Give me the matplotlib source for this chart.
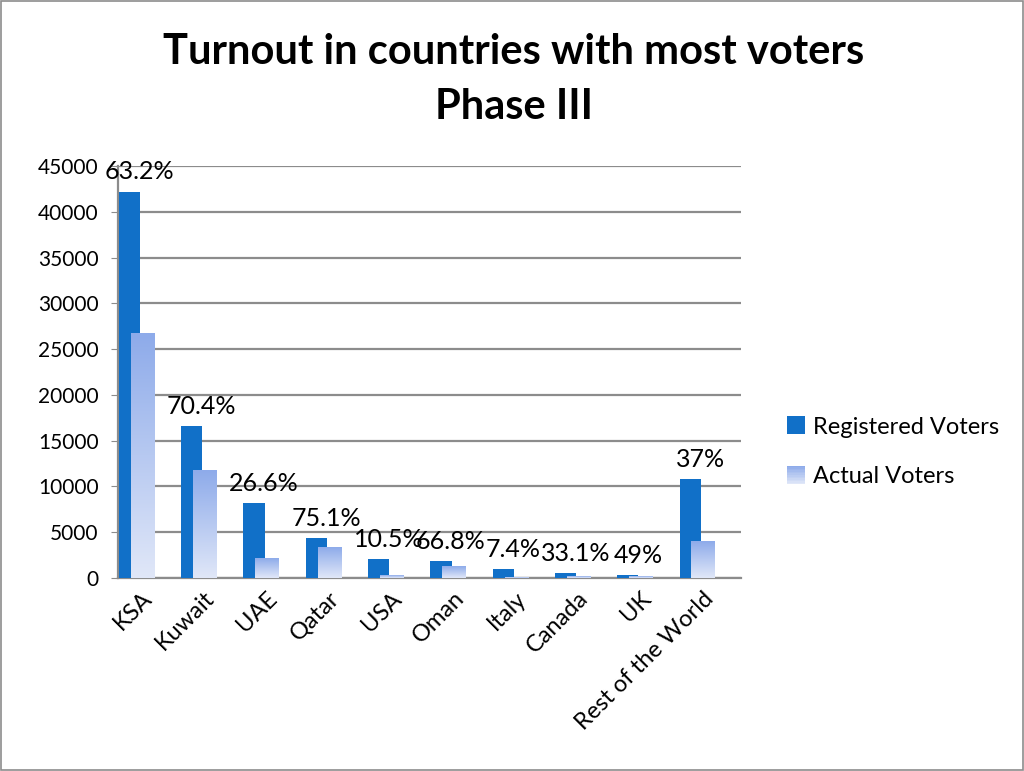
import numpy as np
import matplotlib
matplotlib.use("Agg")
import matplotlib.pyplot as plt
from matplotlib.patches import Rectangle
from matplotlib.legend_handler import HandlerBase

# data
countries = ["KSA", "Kuwait", "UAE", "Qatar", "USA", "Oman", "Italy", "Canada", "UK", "Rest of the World"]
registered = [42200, 16600, 8190, 4370, 2100, 1850, 980, 550, 330, 10800]
actual = [26700, 11690, 2180, 3280, 220, 1240, 73, 182, 160, 4000]
turnout = ["63.2%", "70.4%", "26.6%", "75.1%", "10.5%", "66.8%", "7.4%", "33.1%", "49%", "37%"]
yticks = [0, 5000, 10000, 15000, 20000, 25000, 30000, 35000, 40000, 45000]

plt.rcParams['font.family'] = ['Lato', 'DejaVu Sans']

blue = "#1170c8"
grad_top = np.array([0x8e, 0xab, 0xea]) / 255
grad_bot = np.array([0xe0, 0xe7, 0xf8]) / 255


def gradient_img():
    t = np.linspace(0, 1, 64)[:, None]
    return (grad_top * (1 - t) + grad_bot * t)[:, None, :]


class GradHandler(HandlerBase):
    def create_artists(self, legend, orig_handle, xdescent, ydescent,
                       width, height, fontsize, trans):
        arts = []
        n = 12
        s = min(width, height) * 1.0
        x0 = xdescent + (width - s) / 2
        y0 = -ydescent + (height - s) / 2
        for k in range(n):
            t = k / (n - 1)
            c = grad_bot * (1 - t) + grad_top * t
            r = Rectangle((x0, y0 + s * k / n), s, s / n + 0.3, facecolor=c,
                          edgecolor='none', transform=trans)
            arts.append(r)
        return arts


class SquareHandler(HandlerBase):
    def create_artists(self, legend, orig_handle, xdescent, ydescent,
                       width, height, fontsize, trans):
        s = min(width, height) * 1.0
        r = Rectangle((xdescent + (width - s) / 2, -ydescent + (height - s) / 2), s, s,
                      facecolor=blue, edgecolor='none', transform=trans)
        return [r]


fig = plt.figure(figsize=(10.24, 7.71), dpi=100)
ax = fig.add_axes([0.1152, 0.2503, 0.6084, 0.5344])

x = np.arange(len(countries))
w = 0.34
reg_left = x - 0.485
act_left = x - 0.295

ax.bar(reg_left, registered, width=w, align='edge', color=blue, zorder=3)
img = gradient_img()
for xl, v in zip(act_left, actual):
    ax.imshow(img, extent=[xl, xl + w + 0.03, 0, v], aspect='auto', zorder=4,
              interpolation='bilinear')

for xl, v, lab in zip(reg_left, registered, turnout):
    ax.text(xl + 0.33, v + 900, lab, ha='center', va='bottom', fontsize=18, zorder=5)

ax.set_xlim(-0.5, len(countries) - 0.5)
ax.set_ylim(0, 45000)
ax.set_yticks(yticks)
ax.set_yticklabels([str(t) for t in yticks], fontsize=15)
ax.yaxis.grid(True, color='#8c8c8c', linewidth=1.6, zorder=0)
ax.set_axisbelow(True)
ax.set_xticks(x - 0.12)
ax.set_xticklabels(countries, rotation=45, ha='right', rotation_mode='anchor', fontsize=17)
ax.tick_params(axis='x', length=0, pad=7)
ax.tick_params(axis='y', length=5, color='#8c8c8c', pad=9)
for s in ['top', 'right']:
    ax.spines[s].set_visible(False)
for s in ['left', 'bottom']:
    ax.spines[s].set_color('#8c8c8c')
    ax.spines[s].set_linewidth(1.6)

fig.text(0.502, 0.932, "Turnout in countries with most voters", ha='center', va='center',
         fontsize=30, fontweight='bold')
fig.text(0.502, 0.861, "Phase III", ha='center', va='center', fontsize=30, fontweight='bold')

h1 = Rectangle((0, 0), 1, 1)
h2 = Rectangle((0, 0), 1, 1)
fig.legend([h1, h2], ["Registered Voters", "Actual Voters"],
           handler_map={h1: SquareHandler(), h2: GradHandler()},
           loc='center left', bbox_to_anchor=(0.747, 0.414), frameon=False,
           fontsize=17, handlelength=0.8, handleheight=0.8, handletextpad=0.35,
           labelspacing=1.2)

fig.patches.append(Rectangle((0.001, 0.001), 0.998, 0.998, transform=fig.transFigure,
                             fill=False, edgecolor='#8c8c8c', linewidth=1.2))

fig.savefig("out.png", dpi=100)
